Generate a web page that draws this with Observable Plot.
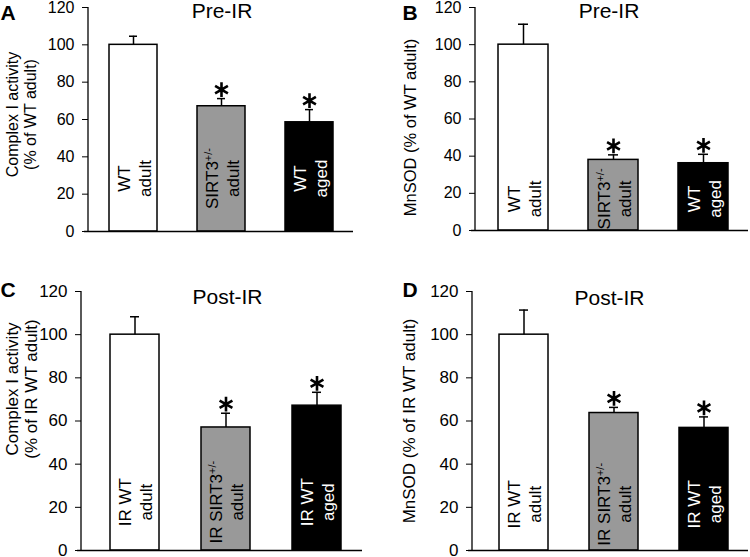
<!DOCTYPE html>
<html><head><meta charset="utf-8">
<script src="https://cdn.jsdelivr.net/npm/d3@7"></script>
<script src="https://cdn.jsdelivr.net/npm/@observablehq/plot@0.6"></script>
<style>
body{margin:0;background:#fff;}
#wrap{position:relative;width:750px;height:557px;overflow:hidden;}
.panel{position:absolute;}
</style></head><body><div id="wrap"></div>
<script>
// ---- data ----
const groupsPre = ["WT\nadult", "SIRT3+/-\nadult", "WT\naged"];
const groupsPost = ["IR WT\nadult", "IR SIRT3+/-\nadult", "IR WT\naged"];
const starred = [false, true, true];
const barFills = ["white", "#999999", "black"];
const labelInks = ["black", "black", "white"];
const yTickCount = 6;

const complexPre = [100, 67.1, 58.5];
const complexPreErr = [4.6, 4.1, 6.8];
const mnsodPre = [100, 38.0, 36.2];
const mnsodPreErr = [11.0, 2.7, 4.8];
const complexPost = [100, 57.0, 67.1];
const complexPostErr = [8.3, 6.6, 6.2];
const mnsodPost = [100, 63.7, 56.8];
const mnsodPostErr = [11.4, 2.6, 5.1];

const FONT = '"Liberation Sans", Arial, Helvetica, sans-serif';

const panels = [
  {letter: "A", title: "Pre-IR", groups: groupsPre, values: complexPre, errors: complexPreErr,
   ytitle: "Complex I activity\n(% of WT adult)",
   left: 0, top: 0, height: 277, mt: 7, mb: 46, ml: 88, mr: 22,
   pi: 0.458, po: 0.223, align: 0.52, labelY: 28.4, tickFont: 16, yFont: 16,
   ytdx: -67, ytdy: -5, tdx: 1, tdy: -4, ldx: -88, ldy: -2},
  {letter: "B", title: "Pre-IR", groups: groupsPre, values: mnsodPre, errors: mnsodPreErr,
   ytitle: "MnSOD (% of WT adult)",
   left: 375, top: 0, height: 277, mt: 7, mb: 47, ml: 100, mr: 2,
   pi: 0.45, po: 0.237, align: 0.53, labelY: 17, tickFont: 16, yFont: 16.5,
   ytdx: -65, ytdy: 8.5, tdx: -3, tdy: -4, ldx: -73, ldy: -2},
  {letter: "C", title: "Post-IR", groups: groupsPost, values: complexPost, errors: complexPostErr,
   ytitle: "Complex I activity\n(% of IR WT adult)",
   left: 0, top: 277, height: 280, mt: 14, mb: 7, ml: 81, mr: 13,
   pi: 0.46, po: 0.269, align: 0.59, labelY: 22.4, tickFont: 17, yFont: 17,
   ytdx: -60, ytdy: -32, tdx: 5.5, tdy: -2.5, ldx: -81, ldy: -9},
  {letter: "D", title: "Post-IR", groups: groupsPost, values: mnsodPost, errors: mnsodPostErr,
   ytitle: "MnSOD (% of IR WT adult)",
   left: 375, top: 277, height: 280, mt: 14, mb: 7, ml: 97, mr: 2,
   pi: 0.46, po: 0.249, align: 0.58, labelY: 21.4, tickFont: 17, yFont: 17,
   ytdx: -64, ytdy: 0, tdx: -1, tdy: -1.5, ldx: -70, ldy: -9}
];

function makePanel(p) {
  const data = p.groups.map((g, i) => ({
    g, v: p.values[i], upper: p.values[i] + p.errors[i],
    fill: barFills[i], ink: labelInks[i], star: starred[i]
  }));
  const yAxisLine = (index, scales, values, dims) => {
    const line = d3.create("svg:line")
      .attr("x1", dims.marginLeft).attr("x2", dims.marginLeft)
      .attr("y1", scales.y(120)).attr("y2", scales.y(0))
      .attr("stroke", "black").attr("stroke-width", 1.3);
    return line.node();
  };
  const chart = Plot.plot({
    width: 375, height: p.height,
    marginLeft: p.ml, marginRight: p.mr, marginTop: p.mt, marginBottom: p.mb,
    style: {fontFamily: FONT, fontSize: p.tickFont + "px", color: "black", background: "transparent", overflow: "visible"},
    x: {domain: p.groups, paddingInner: p.pi, paddingOuter: p.po, align: p.align, axis: null},
    y: {domain: [0, 120], ticks: yTickCount, tickSize: 6, tickPadding: 8, label: null},
    color: {type: "identity"},
    marks: [
      Plot.barY(data, {x: "g", y: "v", fill: "fill", stroke: "black", strokeWidth: 1.5}),
      Plot.ruleX(data, {x: "g", y1: "v", y2: "upper", stroke: "black", strokeWidth: 1.5}),
      Plot.tickY(data, {x: "g", y: "upper", stroke: "black", strokeWidth: 1.5, insetLeft: 20, insetRight: 20}),
      Plot.dot(data.filter(d => d.star), {x: "g", y: "upper", symbol: "asterisk", r: 7, stroke: "black", strokeWidth: 2.6, dy: -9}),
      Plot.text(data, {x: "g", y: () => p.labelY, text: "g", rotate: -90, fill: "ink", fontSize: 17,
        lineHeight: 1.25, textAnchor: "middle", lineAnchor: "middle"}),
      Plot.ruleY([0], {stroke: "black", strokeWidth: 1.5, insetLeft: -4}),
      yAxisLine,
      Plot.text([p.ytitle], {frameAnchor: "left", text: d => d, rotate: -90, dx: p.ytdx, dy: p.ytdy,
        fontSize: p.yFont, lineHeight: 1.12, textAnchor: "middle", lineAnchor: "middle", fill: "black"}),
      Plot.text([p.title], {frameAnchor: "top", text: d => d, dx: p.tdx, dy: p.tdy, fontSize: 21,
        lineAnchor: "top", fill: "black"}),
      Plot.text([p.letter], {frameAnchor: "top-left", text: d => d, dx: p.ldx, dy: p.ldy, fontSize: 21,
        fontWeight: "bold", textAnchor: "start", lineAnchor: "top", fill: "black"})
    ]
  });
  // superscript "+/-"
  const ns = "http://www.w3.org/2000/svg";
  chart.querySelectorAll("tspan, text").forEach(el => {
    if (el.childNodes.length === 1 && el.firstChild.nodeType === 3 && el.textContent.includes("+/-")) {
      const parts = el.textContent.split("+/-");
      el.textContent = parts[0];
      const sup = document.createElementNS(ns, "tspan");
      sup.setAttribute("font-size", "11");
      sup.setAttribute("baseline-shift", "super");
      sup.textContent = "+/-";
      el.appendChild(sup);
      if (parts[1]) el.appendChild(document.createTextNode(parts[1]));
    }
  });
  const div = document.createElement("div");
  div.className = "panel";
  div.style.left = p.left + "px";
  div.style.top = p.top + "px";
  div.appendChild(chart);
  document.getElementById("wrap").appendChild(div);
}
panels.forEach(makePanel);
</script>
</body></html>
